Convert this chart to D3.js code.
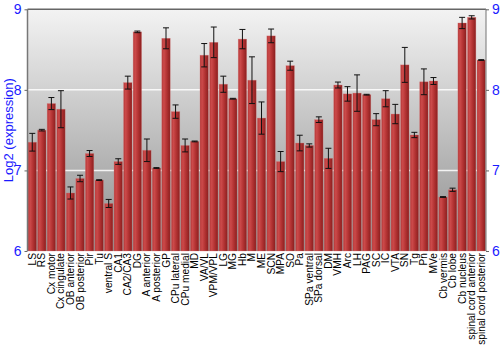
<!DOCTYPE html>
<html>
<head>
<meta charset="utf-8">
<script src="https://cdn.jsdelivr.net/npm/d3@7"></script>
<style>
  body { margin: 0; background: #fff; }
  text { font-family: "Liberation Sans", Arial, sans-serif; }
</style>
</head>
<body>
<svg></svg>
<script>
const width = 500
const height = 350

const regions = ["LS", "RS", "Cx motor", "Cx cingulate", "OB anterior", "OB posterior", "Pir", "Tu",
  "ventral S", "CA1", "CA2/CA3", "DG", "A anterior", "A posterior", "GP", "CPu lateral", "CPu medial",
  "MD", "VA/VL", "VPM/VPL", "LG", "MG", "Hb", "M", "ME", "SCN", "MPA", "SO", "Pa", "SPa ventral",
  "SPa dorsal", "DM", "VMH", "Arc", "LH", "PAG", "SC", "IC", "VTA", "SN", "Tg", "Pn", "MVe",
  "Cb vermis", "Cb lobe", "Cb nucleus", "spinal cord anterior", "spinal cord posterior"];

const expression = [7.35, 7.50, 7.83, 7.76, 6.72, 6.90, 7.21, 6.88,
  6.59, 7.11, 8.09, 8.72, 7.25, 7.03, 8.64, 7.73, 7.31,
  7.36, 8.43, 8.59, 8.07, 7.89, 8.63, 8.12, 7.65, 8.67, 7.11, 8.30, 7.34, 7.31,
  7.63, 7.15, 8.06, 7.95, 7.96, 7.94, 7.63, 7.89, 7.70, 8.31, 7.44, 8.10, 8.11,
  6.67, 6.76, 8.83, 8.90, 8.37];

const errors = [0.11, 0.01, 0.075, 0.23, 0.075, 0.04, 0.037, 0.005,
  0.05, 0.035, 0.08, 0.01, 0.14, 0.005, 0.13, 0.083, 0.08,
  0.005, 0.145, 0.19, 0.10, 0.005, 0.12, 0.29, 0.20, 0.085, 0.125, 0.056, 0.097, 0.02,
  0.035, 0.125, 0.037, 0.09, 0.226, 0.005, 0.075, 0.10, 0.12, 0.217, 0.033, 0.16, 0.043,
  0.005, 0.02, 0.07, 0.02, 0.005];

const yTicks = [6, 7, 8, 9];

const data = regions.map((r, i) => ({name: r, value: expression[i], err: errors[i]}));

const svg = d3.select('svg')
  .attr('width', width)
  .attr('height', height)

const plotLeft = 27.5, plotRight = 486, plotTop = 9.3, plotBottom = 251;

const x = d3.scaleBand()
  .domain(regions)
  .range([plotLeft, plotRight])
  .paddingInner(0.12)
  .paddingOuter(0.06);

const y = d3.scaleLinear()
  .domain([6, 9])
  .range([plotBottom, plotTop]);

const defs = svg.append("defs");

var bg = defs.append("linearGradient")
  .attr("id", "bg")
  .attr("x1", 0).attr("y1", 0).attr("x2", 0).attr("y2", 1);
bg.append("stop").attr("offset", "0%").attr("stop-color", "#f3f3f3");
bg.append("stop").attr("offset", "100%").attr("stop-color", "#8e8e8e");

var barGrad = defs.append("linearGradient")
  .attr("id", "bar")
  .attr("x1", 0).attr("y1", 0).attr("x2", 1).attr("y2", 0);
barGrad.append("stop").attr("offset", "0%").attr("stop-color", "#b53838");
barGrad.append("stop").attr("offset", "25%").attr("stop-color", "#cc4a4a");
barGrad.append("stop").attr("offset", "60%").attr("stop-color", "#b23232");
barGrad.append("stop").attr("offset", "100%").attr("stop-color", "#8a1f1f");

// plot background
svg.append("rect")
  .attr("x", plotLeft).attr("y", plotTop)
  .attr("width", plotRight - plotLeft).attr("height", plotBottom - plotTop)
  .attr("fill", "url(#bg)");

// grid lines
svg.append("g")
  .selectAll("line")
  .data([7, 8])
  .enter()
  .append("line")
  .attr("x1", plotLeft).attr("x2", plotRight)
  .attr("y1", d => y(d)).attr("y2", d => y(d))
  .attr("stroke", "#fff")
  .attr("stroke-opacity", 0.85)
  .attr("stroke-width", 1.5);

// bars
svg.append("g")
  .selectAll("rect")
  .data(data)
  .enter()
  .append("rect")
  .attr("x", d => x(d.name))
  .attr("y", d => y(d.value))
  .attr("width", x.bandwidth())
  .attr("height", d => plotBottom - y(d.value))
  .attr("fill", "url(#bar)")
  .attr("stroke", "#d87878")
  .attr("stroke-opacity", 0.5)
  .attr("stroke-width", 0.6);

// error bars
var eb = svg.append("g")
  .selectAll("g")
  .data(data)
  .enter()
  .append("g")
  .attr("stroke", "#111")
  .attr("stroke-width", 1);

const cx = d => x(d.name) + x.bandwidth() / 2;
eb.append("line")
  .attr("x1", cx).attr("x2", cx)
  .attr("y1", d => y(d.value + d.err)).attr("y2", d => y(d.value - d.err));
eb.append("line")
  .attr("x1", d => cx(d) - 3).attr("x2", d => cx(d) + 3)
  .attr("y1", d => y(d.value + d.err)).attr("y2", d => y(d.value + d.err));
eb.append("line")
  .attr("x1", d => cx(d) - 3).attr("x2", d => cx(d) + 3)
  .attr("y1", d => y(d.value - d.err)).attr("y2", d => y(d.value - d.err));

// frame
svg.append("line").attr("x1", plotLeft).attr("x2", plotRight).attr("y1", plotTop).attr("y2", plotTop)
  .attr("stroke", "#666").attr("stroke-width", 1.5);
svg.append("line").attr("x1", plotLeft).attr("x2", plotLeft).attr("y1", plotTop).attr("y2", plotBottom)
  .attr("stroke", "#777").attr("stroke-width", 1.5);
svg.append("line").attr("x1", plotRight).attr("x2", plotRight).attr("y1", plotTop).attr("y2", plotBottom)
  .attr("stroke", "#888").attr("stroke-width", 1.2);

// axes
var yLeft = svg.append("g")
  .attr("transform", `translate(${plotLeft},0)`)
  .call(d3.axisLeft(y).tickValues(yTicks).tickFormat(d3.format("d")).tickSize(3).tickPadding(3));
var yRight = svg.append("g")
  .attr("transform", `translate(${plotRight},0)`)
  .call(d3.axisRight(y).tickValues(yTicks).tickFormat(d3.format("d")).tickSize(3).tickPadding(3));
[yLeft, yRight].forEach(g => {
  g.select(".domain").remove();
  g.selectAll("line").attr("stroke", "#666");
  g.selectAll("text")
    .attr("fill", "#1a1aff")
    .style("font-size", "14px")
    .style("font-family", "Liberation Sans, Arial, sans-serif");
});

// category labels
svg.append("g")
  .selectAll("text")
  .data(regions)
  .enter()
  .append("text")
  .attr("transform", d => `translate(${x(d) + x.bandwidth() / 2 + 3.5},${plotBottom + 2}) rotate(-90)`)
  .attr("text-anchor", "end")
  .style("font-size", "10.2px")
  .attr("fill", "#000")
  .text(d => d);

// y title
svg.append("text")
  .attr("transform", `translate(13,${(plotTop + plotBottom) / 2}) rotate(-90)`)
  .attr("text-anchor", "middle")
  .attr("fill", "#1a1aff")
  .style("font-size", "13px")
  .text("Log2 (expression)");
</script>
</body>
</html>
